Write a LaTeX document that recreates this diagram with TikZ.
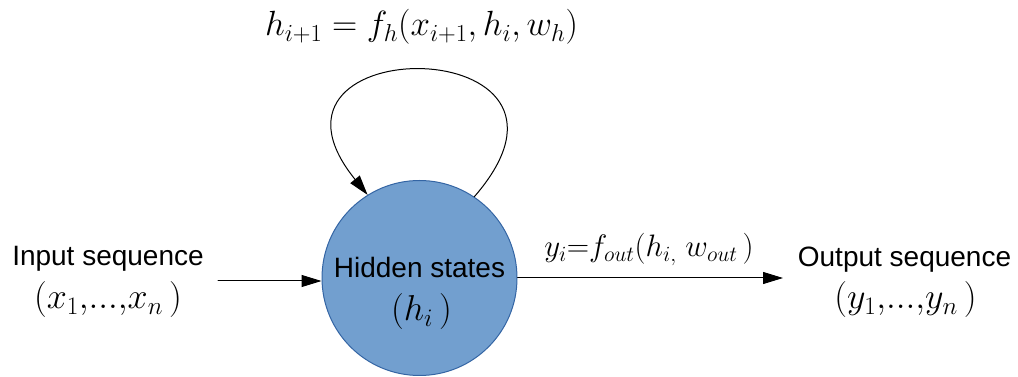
\RequirePackage{fix-cm}
\documentclass[tikz,border=0pt]{standalone}
\usepackage{amsmath}
\usepackage{fontspec}
\setsansfont{Liberation Sans}
\usetikzlibrary{calc,arrows.meta}
\definecolor{celeste}{HTML}{729FCF}
\definecolor{borde}{HTML}{3465A4}
\tikzset{
  etiqueta/.style={font=\sffamily\fontsize{28}{34}\selectfont,anchor=base,inner sep=0pt},
  formula/.style={font=\fontsize{#1}{40}\selectfont,anchor=base,inner sep=0pt},
  flecha/.style={-{Triangle[length=20pt,width=12pt]},line width=1pt},
}

\begin{document}
\begin{tikzpicture}[x=1pt,y=1pt,line cap=round]
  \useasboundingbox (0,0) rectangle (1018,377);
  % hidden state
  \node[circle,fill=celeste,draw=borde,line width=1pt,minimum size=195pt,inner sep=0pt] (hidden) at (419.5,99) {};
  \node[etiqueta] (hname) at (419.5,99) {Hidden states};
  \node[formula=36] (hvar) at (421.5,56) {$(h_i\,)$};
  % recurrence
  \draw[flecha] (hidden.56) .. controls ($(hidden.56)+(145,167)$) and ($(hidden.122)+(-135,167)$) .. (hidden.122);
  \node[formula=35] (rec) at (421.5,341) {$h_{i+1} = f_h(x_{i+1},h_i,w_h)$};
  % input
  \node[etiqueta] (inname) at (108,111) {Input sequence};
  \node[formula=36] (invar) at (108,68) {$(x_1{,}...{,}x_n\,)$};
  \coordinate (inS) at (218,96);
  \draw[flecha] (inS) -- (inS -| hidden.west);
  % output
  \coordinate (outE) at (783,99);
  \draw[flecha] (hidden.east) -- (outE);
  \node[formula=31] (outf) at (649,120.5) {$y_i{=}f_{out}(h_{i,}\;w_{out}\,)$};
  \node[etiqueta] (outname) at (904.5,110) {Output sequence};
  \node[formula=36] (outvar) at (905.5,68) {$(y_1{,}...{,}y_n\,)$};
\end{tikzpicture}
\end{document}
